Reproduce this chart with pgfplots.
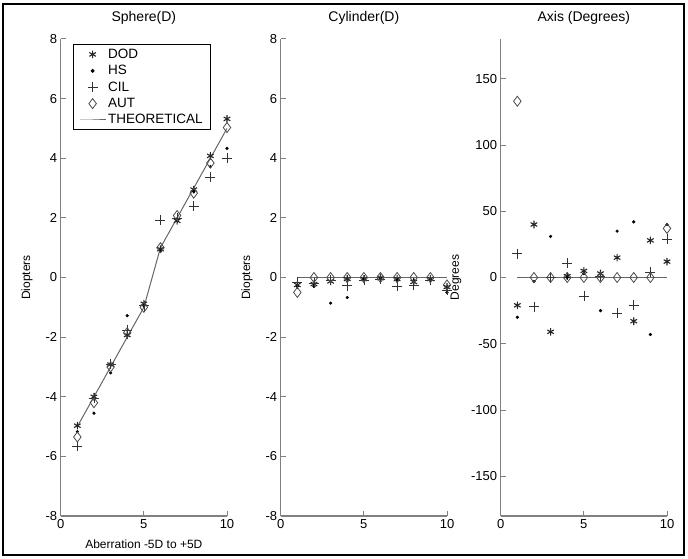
\documentclass[border=0pt]{standalone}
\usepackage{fontspec}
\setmainfont{Liberation Sans}
\usepackage{pgfplots}
\usepackage{pgfplotstable}
\pgfplotsset{compat=1.18}

\pgfplotstableread{
x dod hs cil aut th
1 -4.97 -5.17 -5.65 -5.35 -5
2 -4.00 -4.55 -4.05 -4.20 -4
3 -2.92 -3.20 -2.90 -3.00 -3
4 -1.93 -1.28 -1.76 -1.85 -2
5 -0.88 -0.95 -0.95 -1.00 -1
6 0.95 0.88 1.93 1.00 1
7 1.90 1.95 2.00 2.08 2
8 2.95 2.88 2.40 2.83 3
9 4.08 3.72 3.37 3.84 4
10 5.32 4.33 4.00 5.03 5
}\sphere

\pgfplotstableread{
x dod hs cil aut th
1 -0.25 -0.30 -0.15 -0.50 0
2 -0.22 -0.30 -0.18 0 0
3 -0.13 -0.86 -0.10 0 0
4 -0.05 -0.67 -0.28 0 0
5 -0.05 -0.05 -0.10 0 0
6 -0.02 0 -0.05 0 0
7 -0.05 -0.10 -0.30 0 0
8 -0.15 -0.10 -0.25 0 0
9 -0.05 -0.10 -0.08 0 0
10 -0.32 -0.50 -0.42 -0.25 0
}\cylinder

\pgfplotstableread{
x dod hs cil aut th
1 -21 -30 18 133 0
2 40 -3 -22 0 0
3 -41 31 0 0 0
4 1 0 11 0 0
5 5 3 -14 0 0
6 3 -25 1 0 0
7 15 35 -27 0 0
8 -33 42 -21 0 0
9 28 -43 4 0 0
10 12 40 29 37 0
}\axisdeg

\pgfplotsset{
  panel/.style={
    scale only axis, width=166.3pt, height=477pt, anchor=south west,
    axis lines*=left, xmin=0, xmax=10, xtick={0,5,10},
    tick align=inside, major tick length=5pt,
    axis line style={black!50, line width=1.2pt},
    tick style={black!50, line width=1pt},
    ticklabel style={font=\fontsize{13}{15}\selectfont, black},
    /pgf/number format/assume math mode=true,
    title style={font=\fontsize{14}{16}\selectfont, at={(axis description cs:0.5,1)}, anchor=center, yshift=15pt},
    label style={font=\fontsize{12}{14}\selectfont},
    clip=false,
    legend image code/.code={\draw[mark repeat=2,mark phase=2,##1] plot coordinates {(0pt,0pt)(13pt,0pt)(26pt,0pt)};},
  },
  dod/.style={only marks, mark=asterisk, mark size=3.8pt, black!85, mark options={line width=1.1pt}},
  hs/.style={only marks, mark=*, mark size=1.4pt, black},
  cil/.style={only marks, mark=+, mark size=5pt, black!80, mark options={line width=0.7pt}},
  aut/.style={only marks, mark=diamond, mark size=5pt, black!70, mark options={line width=0.8pt, fill=white}},
  th/.style={no marks, black!60, line width=1pt},
}

\begin{document}
\begin{tikzpicture}
\useasboundingbox (0pt,0pt) rectangle (688pt,558pt);
\draw[line width=1.5pt] (3pt,3pt) rectangle (684pt,554pt);

\begin{axis}[panel, at={(60.7pt,42pt)},
  ymin=-8, ymax=8, ytick={-8,-6,...,8},
  title={Sphere(D)}, ylabel={Diopters}, xlabel={Aberration -5D to +5D},
  ylabel style={at={(axis description cs:-0.203,0.5)}, anchor=center},
  xlabel style={at={(axis description cs:0.5,-0.0587)}, anchor=center},
  legend style={at={(axis description cs:0.072,0.9895)}, anchor=north west, draw=black, line width=0.9pt,
    font=\fontsize{13.5}{15}\selectfont, inner xsep=6pt, inner ysep=2.5pt, row sep=1.5pt, cells={anchor=west}},
]
\addplot[dod] table[x=x,y=dod]{\sphere};
\addplot[hs] table[x=x,y=hs]{\sphere};
\addplot[cil] table[x=x,y=cil]{\sphere};
\addplot[aut] table[x=x,y=aut]{\sphere};
\addplot[th] table[x=x,y=th]{\sphere};
\legend{DOD,HS,CIL,AUT,THEORETICAL}
\end{axis}

\begin{axis}[panel, at={(280.7pt,42pt)},
  ymin=-8, ymax=8, ytick={-8,-6,...,8},
  title={Cylinder(D)}, ylabel={Diopters},
  ylabel style={at={(axis description cs:-0.203,0.5)}, anchor=center},
]
\addplot[th] table[x=x,y=th]{\cylinder};
\addplot[dod] table[x=x,y=dod]{\cylinder};
\addplot[hs] table[x=x,y=hs]{\cylinder};
\addplot[cil] table[x=x,y=cil]{\cylinder};
\addplot[aut] table[x=x,y=aut]{\cylinder};
\end{axis}

\begin{axis}[panel, at={(500.7pt,42pt)},
  ymin=-180, ymax=180, ytick={-150,-100,...,150},
  title={Axis (Degrees)}, ylabel={Degrees},
  ylabel style={at={(axis description cs:-0.269,0.5)}, anchor=center},
]
\addplot[th] table[x=x,y=th]{\axisdeg};
\addplot[dod] table[x=x,y=dod]{\axisdeg};
\addplot[hs] table[x=x,y=hs]{\axisdeg};
\addplot[cil] table[x=x,y=cil]{\axisdeg};
\addplot[aut] table[x=x,y=aut]{\axisdeg};
\end{axis}
\end{tikzpicture}
\end{document}
